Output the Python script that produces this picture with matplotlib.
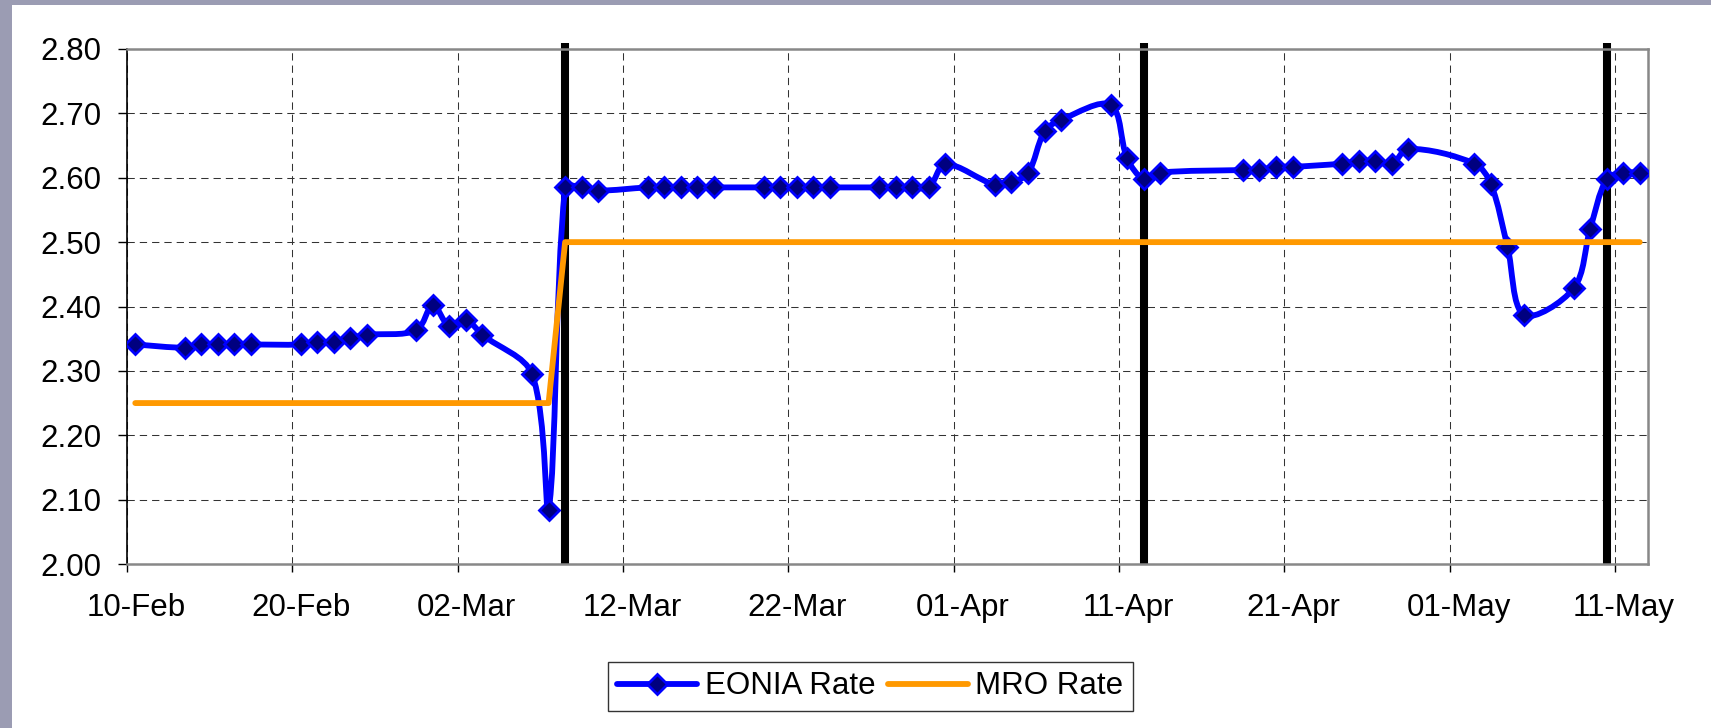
import numpy as np
import pandas as pd
import matplotlib
matplotlib.use("Agg")
import matplotlib.pyplot as plt
import matplotlib.dates as mdates
from matplotlib.path import Path
from matplotlib.patches import PathPatch, Rectangle
from matplotlib.lines import Line2D
from matplotlib.transforms import ScaledTranslation

plt.rcParams['font.family'] = ['Liberation Sans', 'DejaVu Sans']

# EONIA daily fixings (TARGET days)
eonia_dates = ['2006-02-10', '2006-02-13', '2006-02-14', '2006-02-15', '2006-02-16', '2006-02-17',
               '2006-02-20', '2006-02-21', '2006-02-22', '2006-02-23', '2006-02-24',
               '2006-02-27', '2006-02-28', '2006-03-01', '2006-03-02', '2006-03-03',
               '2006-03-06', '2006-03-07', '2006-03-08', '2006-03-09', '2006-03-10',
               '2006-03-13', '2006-03-14', '2006-03-15', '2006-03-16', '2006-03-17',
               '2006-03-20', '2006-03-21', '2006-03-22', '2006-03-23', '2006-03-24',
               '2006-03-27', '2006-03-28', '2006-03-29', '2006-03-30', '2006-03-31',
               '2006-04-03', '2006-04-04', '2006-04-05', '2006-04-06', '2006-04-07',
               '2006-04-10', '2006-04-11', '2006-04-12', '2006-04-13',
               '2006-04-18', '2006-04-19', '2006-04-20', '2006-04-21',
               '2006-04-24', '2006-04-25', '2006-04-26', '2006-04-27', '2006-04-28',
               '2006-05-02', '2006-05-03', '2006-05-04', '2006-05-05',
               '2006-05-08', '2006-05-09', '2006-05-10', '2006-05-11', '2006-05-12']
eonia_rate = [2.341, 2.336, 2.341, 2.341, 2.341, 2.341,
              2.341, 2.345, 2.345, 2.351, 2.356,
              2.363, 2.402, 2.369, 2.379, 2.356,
              2.295, 2.084, 2.585, 2.585, 2.580,
              2.585, 2.585, 2.585, 2.585, 2.585,
              2.585, 2.585, 2.585, 2.585, 2.585,
              2.585, 2.585, 2.585, 2.585, 2.621,
              2.589, 2.593, 2.607, 2.672, 2.690,
              2.713, 2.630, 2.598, 2.608,
              2.612, 2.612, 2.617, 2.617,
              2.622, 2.626, 2.626, 2.621, 2.645,
              2.622, 2.590, 2.493, 2.387,
              2.428, 2.520, 2.598, 2.608, 2.608]

# MRO rate steps
mro_dates = ['2006-02-10', '2006-03-07', '2006-03-08', '2006-05-12']
mro_rate = [2.25, 2.25, 2.50, 2.50]

# start of the reserve maintenance periods (black bars)
period_starts = ['2006-03-08', '2006-04-12', '2006-05-10']

x_start = '2006-02-10'
x_end = '2006-05-13'

fig = plt.figure(figsize=(17.11, 7.28), dpi=100, facecolor='#9b9cb3')
fig.add_artist(Rectangle((12 / 1711, 0), 1, (728 - 5) / 728, transform=fig.transFigure,
                         facecolor='white', edgecolor='none', zorder=0))
ax = fig.add_axes([127 / 1711, (728 - 564) / 728, 1521 / 1711, 515 / 728])
ax.set_facecolor('white')

# points sit in the middle of their day (Excel date axis)
half_day = 0.5
ex = mdates.date2num(pd.to_datetime(eonia_dates)) + half_day
mx = mdates.date2num(pd.to_datetime(mro_dates)) + half_day
px = mdates.date2num(pd.to_datetime(period_starts)) + half_day

ax.set_xlim(mdates.date2num(pd.Timestamp(x_start)), mdates.date2num(pd.Timestamp(x_end)))
ax.set_ylim(2.0, 2.8)

ticks = pd.date_range(x_start, x_end, freq='10D')
ax.set_xticks(mdates.date2num(ticks))
ax.xaxis.set_major_formatter(mdates.DateFormatter('%d-%b'))
ax.set_yticks(np.arange(2.0, 2.81, 0.1))
ax.yaxis.set_major_formatter(plt.FormatStrFormatter('%.2f'))

ax.set_axisbelow(True)
ax.grid(True, color='#333333', lw=0.75, ls=(0, (7, 4.8)))

for s in ['top', 'right', 'bottom']:
    ax.spines[s].set_color('#888888')
    ax.spines[s].set_linewidth(1.8)
ax.spines['left'].set_color('black')
ax.spines['left'].set_linewidth(1.2)

fs = 22.5
ax.tick_params(axis='x', direction='out', length=5.8, width=1, color='black',
               labelsize=fs, pad=15)
ax.tick_params(axis='y', direction='out', length=6.5, width=1, color='black',
               labelsize=fs, pad=12)
for lab in ax.get_xticklabels():
    lab.set_transform(lab.get_transform() + ScaledTranslation(9 / 100, 0, fig.dpi_scale_trans))

# maintenance period bars
ax.vlines(px, 2.0, 2.809, colors='black', lw=5.8, zorder=2, clip_on=False)


# Excel-style smoothed line through the EONIA points
def smooth_path(ax, xs, ys):
    pts = ax.transData.transform(np.column_stack([xs, ys]))
    n = len(pts)
    verts = [pts[0]]
    codes = [Path.MOVETO]
    for i in range(n - 1):
        p0 = pts[max(i - 1, 0)]
        p1 = pts[i]
        p2 = pts[i + 1]
        p3 = pts[min(i + 2, n - 1)]
        d01 = np.hypot(*(p1 - p0))
        d12 = np.hypot(*(p2 - p1))
        d23 = np.hypot(*(p3 - p2))
        c1 = p1 + (p2 - p0) * d12 / (d01 + d12) / 3
        c2 = p2 - (p3 - p1) * d12 / (d12 + d23) / 3
        verts += [c1, c2, p2]
        codes += [Path.CURVE4] * 3
    verts = ax.transData.inverted().transform(np.array(verts))
    return Path(verts, codes)


lw = 4.2
ms = 10.5
ax.add_patch(PathPatch(smooth_path(ax, ex, eonia_rate), facecolor='none', edgecolor='#0000ff',
                       lw=lw, joinstyle='round', capstyle='round', zorder=3))
ax.plot(ex, eonia_rate, ls='none', marker='D', ms=ms, mfc='#000080', mec='#0000ff',
        mew=2, zorder=4)
ax.plot(mx, mro_rate, color='#ff9900', lw=lw, solid_capstyle='round', zorder=5)

handles = [Line2D([], [], color='#0000ff', lw=lw, marker='D', ms=ms, mfc='#000080',
                  mec='#0000ff', mew=2, solid_capstyle='round'),
           Line2D([], [], color='#ff9900', lw=lw, solid_capstyle='round')]
leg = fig.legend(handles, ['EONIA Rate', 'MRO Rate'], ncol=2, loc='center',
                 bbox_to_anchor=(870.5 / 1711, (728 - 686.5) / 728),
                 fontsize=fs, frameon=True, fancybox=False, framealpha=1,
                 edgecolor='#333333', handlelength=2.55, handletextpad=0.25,
                 columnspacing=0.4, borderpad=0.3)
leg.get_frame().set_linewidth(1)

fig.savefig('out.png', dpi=100, facecolor=fig.get_facecolor())
